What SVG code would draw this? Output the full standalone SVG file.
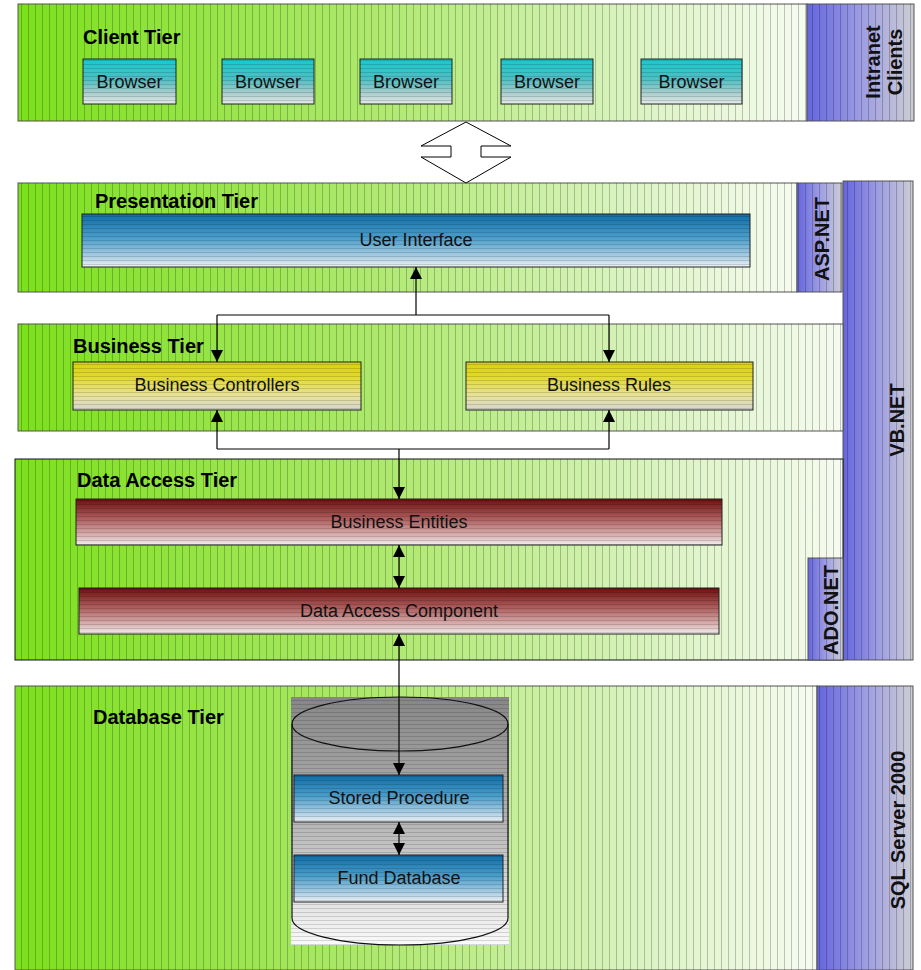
<svg xmlns="http://www.w3.org/2000/svg" width="921" height="970" viewBox="0 0 921 970">
<style>
.title{font-family:"Liberation Sans",Arial,sans-serif;font-size:20px;font-weight:bold;fill:#000}
.side{font-family:"Liberation Sans",Arial,sans-serif;font-size:20px;font-weight:bold;fill:#111;text-anchor:middle;dominant-baseline:central}
.lbl{font-family:"Liberation Sans",Arial,sans-serif;font-size:18px;fill:#111;text-anchor:middle;dominant-baseline:central}
.tier{stroke:#555;stroke-width:1}
.box{stroke:#222;stroke-width:1}
.conn{fill:none;stroke:#000;stroke-width:1.2}
</style>
<defs>
<linearGradient id="gGreen" x1="0" y1="0" x2="1" y2="0">
<stop offset="0" stop-color="#7CE01C"/>
<stop offset="0.45" stop-color="#AEE96E"/>
<stop offset="0.8" stop-color="#DDF4C6"/>
<stop offset="1" stop-color="#F6FBF0"/>
</linearGradient>
<linearGradient id="gPurple" x1="0" y1="0" x2="1" y2="0">
<stop offset="0" stop-color="#6565DE"/>
<stop offset="0.5" stop-color="#9C9CE4"/>
<stop offset="1" stop-color="#CDCDD4"/>
</linearGradient>
<linearGradient id="gCyan" x1="0" y1="0" x2="0" y2="1">
<stop offset="0" stop-color="#18C8CC"/>
<stop offset="0.45" stop-color="#4CC0C4"/>
<stop offset="0.75" stop-color="#A8CCCC"/>
<stop offset="1" stop-color="#E6EAEA"/>
</linearGradient>
<linearGradient id="gBlue" x1="0" y1="0" x2="0" y2="1">
<stop offset="0" stop-color="#0E6CA6"/>
<stop offset="0.45" stop-color="#4A9ECB"/>
<stop offset="0.8" stop-color="#A9CDE2"/>
<stop offset="1" stop-color="#EEF2F6"/>
</linearGradient>
<linearGradient id="gYellow" x1="0" y1="0" x2="0" y2="1">
<stop offset="0" stop-color="#D8D010"/>
<stop offset="0.3" stop-color="#E2DA2A"/>
<stop offset="0.7" stop-color="#E8E29A"/>
<stop offset="1" stop-color="#D6D6D0"/>
</linearGradient>
<linearGradient id="gRed" x1="0" y1="0" x2="0" y2="1">
<stop offset="0" stop-color="#6E0E0E"/>
<stop offset="0.45" stop-color="#B06262"/>
<stop offset="0.8" stop-color="#DAB4B4"/>
<stop offset="1" stop-color="#F4EEEE"/>
</linearGradient>
<linearGradient id="gGray" x1="0" y1="0" x2="0" y2="1">
<stop offset="0" stop-color="#868686"/>
<stop offset="0.5" stop-color="#B4B4B4"/>
<stop offset="1" stop-color="#FAFAFA"/>
</linearGradient>
<pattern id="vStripe" patternUnits="userSpaceOnUse" width="7" height="10">
<line x1="0.5" y1="0" x2="0.5" y2="10" stroke="#000" stroke-opacity="0.22" stroke-width="1"/>
</pattern>
<pattern id="hStripe" patternUnits="userSpaceOnUse" width="10" height="4">
<line x1="0" y1="0.5" x2="10" y2="0.5" stroke="#000" stroke-opacity="0.14" stroke-width="1"/>
</pattern>
<marker id="arr" viewBox="0 0 10 10" refX="10" refY="5" markerWidth="12" markerHeight="12" markerUnits="userSpaceOnUse" orient="auto-start-reverse">
<path d="M0,0 L10,5 L0,10 Z" fill="#000"/>
</marker>
</defs>

<g id="client-tier">
<rect class="tier" x="18" y="4" width="789" height="117" fill="url(#gGreen)"/>
<rect x="18" y="4" width="789" height="117" fill="url(#vStripe)"/>
<text class="title" x="83" y="44">Client Tier</text>
</g>
<g id="intranet-clients">
<rect class="tier" x="807" y="4" width="107" height="117" fill="url(#gPurple)"/>
<rect x="807" y="4" width="107" height="117" fill="url(#vStripe)"/>
<text class="side" transform="translate(873,62) rotate(-90)">Intranet</text>
<text class="side" transform="translate(895,62) rotate(-90)">Clients</text>
</g>
<g id="browser1"><rect class="box" x="83" y="59" width="93" height="45" fill="url(#gCyan)"/><rect x="83" y="59" width="93" height="45" fill="url(#hStripe)"/><text class="lbl" x="129.5" y="82">Browser</text></g>
<g id="browser2"><rect class="box" x="222" y="59" width="92" height="45" fill="url(#gCyan)"/><rect x="222" y="59" width="92" height="45" fill="url(#hStripe)"/><text class="lbl" x="268" y="82">Browser</text></g>
<g id="browser3"><rect class="box" x="360" y="59" width="92" height="45" fill="url(#gCyan)"/><rect x="360" y="59" width="92" height="45" fill="url(#hStripe)"/><text class="lbl" x="406" y="82">Browser</text></g>
<g id="browser4"><rect class="box" x="501" y="59" width="92" height="45" fill="url(#gCyan)"/><rect x="501" y="59" width="92" height="45" fill="url(#hStripe)"/><text class="lbl" x="547" y="82">Browser</text></g>
<g id="browser5"><rect class="box" x="641" y="59" width="101" height="45" fill="url(#gCyan)"/><rect x="641" y="59" width="101" height="45" fill="url(#hStripe)"/><text class="lbl" x="691.5" y="82">Browser</text></g>

<g id="vbnet">
<rect class="tier" x="843" y="181" width="70" height="479" fill="url(#gPurple)"/>
<rect x="843" y="181" width="70" height="479" fill="url(#vStripe)"/>
<text class="side" transform="translate(897,420) rotate(-90)">VB.NET</text>
</g>

<g id="presentation-tier">
<rect class="tier" x="18" y="183" width="779" height="109" fill="url(#gGreen)"/>
<rect x="18" y="183" width="779" height="109" fill="url(#vStripe)"/>
<text class="title" x="95" y="208">Presentation Tier</text>
</g>
<g id="aspnet">
<rect class="tier" x="797" y="183" width="45" height="109" fill="url(#gPurple)"/>
<rect x="797" y="183" width="45" height="109" fill="url(#vStripe)"/>
<text class="side" transform="translate(822,239) rotate(-90)">ASP.NET</text>
</g>
<g id="user-interface"><rect class="box" x="82" y="214" width="668" height="53" fill="url(#gBlue)"/><rect x="82" y="214" width="668" height="53" fill="url(#hStripe)"/><text class="lbl" x="416" y="240">User Interface</text></g>

<g id="business-tier">
<rect class="tier" x="18" y="324" width="825" height="107" fill="url(#gGreen)"/>
<rect x="18" y="324" width="825" height="107" fill="url(#vStripe)"/>
<text class="title" x="73" y="353">Business Tier</text>
</g>
<g id="business-controllers"><rect class="box" x="73" y="362" width="288" height="48" fill="url(#gYellow)"/><rect x="73" y="362" width="288" height="48" fill="url(#hStripe)"/><text class="lbl" x="217" y="385">Business Controllers</text></g>
<g id="business-rules"><rect class="box" x="466" y="362" width="287" height="48" fill="url(#gYellow)"/><rect x="466" y="362" width="287" height="48" fill="url(#hStripe)"/><text class="lbl" x="609" y="385">Business Rules</text></g>

<g id="data-access-tier">
<rect x="15" y="459" width="828" height="201" fill="url(#gGreen)" stroke="#111" stroke-width="1"/>
<rect x="15" y="459" width="828" height="201" fill="url(#vStripe)"/>
<text class="title" x="77" y="487">Data Access Tier</text>
</g>
<g id="adonet">
<rect class="tier" x="808" y="558" width="35" height="102" fill="url(#gPurple)"/>
<rect x="808" y="558" width="35" height="102" fill="url(#vStripe)"/>
<text class="side" transform="translate(831,610) rotate(-90)">ADO.NET</text>
</g>
<g id="business-entities"><rect class="box" x="76" y="499" width="646" height="46" fill="url(#gRed)"/><rect x="76" y="499" width="646" height="46" fill="url(#hStripe)"/><text class="lbl" x="399" y="522">Business Entities</text></g>
<g id="data-access-component"><rect class="box" x="79" y="588" width="640" height="46" fill="url(#gRed)"/><rect x="79" y="588" width="640" height="46" fill="url(#hStripe)"/><text class="lbl" x="399" y="611">Data Access Component</text></g>

<g id="database-tier">
<rect class="tier" x="15" y="686" width="802" height="284" fill="url(#gGreen)"/>
<rect x="15" y="686" width="802" height="284" fill="url(#vStripe)"/>
<text class="title" x="93" y="724">Database Tier</text>
</g>
<g id="sql-server">
<rect class="tier" x="817" y="686" width="96" height="284" fill="url(#gPurple)"/>
<rect x="817" y="686" width="96" height="284" fill="url(#vStripe)"/>
<text class="side" transform="translate(898,830) rotate(-90)">SQL Server 2000</text>
</g>
<g id="database-cylinder">
<rect x="291" y="697" width="218" height="248" fill="url(#gGray)"/>
<rect x="291" y="697" width="218" height="248" fill="url(#hStripe)"/>
<path d="M292,724 V918 A108,27 0 0 0 508,918 V724" fill="none" stroke="#111" stroke-width="1.2"/>
<ellipse cx="400" cy="724" rx="108" ry="27" fill="none" stroke="#111" stroke-width="1.2"/>
</g>
<g id="stored-procedure"><rect class="box" x="294" y="775" width="209" height="47" fill="url(#gBlue)"/><rect x="294" y="775" width="209" height="47" fill="url(#hStripe)"/><text class="lbl" x="399" y="798">Stored Procedure</text></g>
<g id="fund-database"><rect class="box" x="294" y="855" width="209" height="47" fill="url(#gBlue)"/><rect x="294" y="855" width="209" height="47" fill="url(#hStripe)"/><text class="lbl" x="399" y="878">Fund Database</text></g>

<g id="connectors">
<path d="M466,122 L511,146 L481,146 L481,157 L511,157 L466,183 L421,157 L451,157 L451,146 L421,146 Z" fill="#fff" stroke="#000" stroke-width="1"/>
<path class="conn" d="M416,315 V267" marker-end="url(#arr)"/>
<path class="conn" d="M217,315 H609"/>
<path class="conn" d="M217,315 V362" marker-end="url(#arr)"/>
<path class="conn" d="M609,315 V362" marker-end="url(#arr)"/>
<path class="conn" d="M217,449 H609"/>
<path class="conn" d="M217,449 V410" marker-end="url(#arr)"/>
<path class="conn" d="M609,449 V410" marker-end="url(#arr)"/>
<path class="conn" d="M399,449 V499" marker-end="url(#arr)"/>
<path class="conn" d="M399,545 V588" marker-start="url(#arr)" marker-end="url(#arr)"/>
<path class="conn" d="M399,634 V775" marker-start="url(#arr)" marker-end="url(#arr)"/>
<path class="conn" d="M399,822 V855" marker-start="url(#arr)" marker-end="url(#arr)"/>
</g>
</svg>
